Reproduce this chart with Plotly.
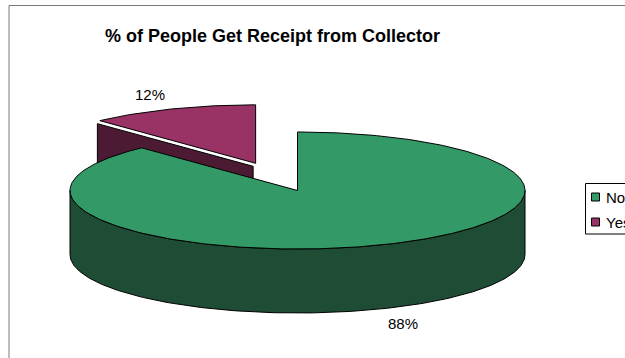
import numpy as np
import plotly.graph_objects as go

# Survey result: did the collector hand over a receipt?
categories = ["No", "Yes"]
values = [88, 12]
top_colors = ["#339966", "#993366"]
side_colors = ["#1E4C35", "#4C1B33"]
explode = [0.0, 0.5]
title_text = "% of People Get Receipt from Collector"

# Drawing geometry, in page pixels (y grows downward)
W, H = 625, 358
CX, CY = 297.5, 190.5      # centre of the top face
RX, RY = 227.5, 58.5       # ellipse radii of the tilted disc
DEPTH = 64                 # thickness of the disc
SEAM = (-2.5, 3.0)         # small gap between a lifted top face and its wall
LABEL_R = 1.26
FONT = "Arial, 'Liberation Sans', sans-serif"


def rim(cx, cy, t):
    """Point on the rim at angle t (degrees, clockwise from 12 o'clock)."""
    r = np.radians(t)
    return cx + RX * np.sin(r), cy - RY * np.cos(r)


def closed(xs, ys):
    xs = list(xs); ys = list(ys)
    return xs + [xs[0]], ys + [ys[0]]


fig = go.Figure()

total = float(sum(values))
slices = []
start = 0.0
for name, v, ex, ct, cs in zip(categories, values, explode, top_colors, side_colors):
    span = 360.0 * v / total
    mid = start + span / 2
    mr = np.radians(mid)
    cx = CX + ex * RX * np.sin(mr)
    cy = CY - ex * RY * np.cos(mr)
    slices.append(dict(name=name, v=v, s=start, e=start + span, mid=mid,
                       cx=cx, cy=cy, ct=ct, cs=cs, lifted=ex > 0))
    start += span


def poly(xs, ys, color):
    xs, ys = closed(xs, ys)
    fig.add_trace(go.Scatter(x=xs, y=ys, mode="lines", fill="toself",
                             fillcolor=color, line=dict(color="black", width=1),
                             hoverinfo="skip", showlegend=False))


# back slices first
for sl in sorted(slices, key=lambda d: d["cy"]):
    cx, cy, s, e = sl["cx"], sl["cy"], sl["s"], sl["e"]
    ox, oy = SEAM if sl["lifted"] else (0.0, 0.0)

    # radial walls that face the viewer
    for a, vis in ((s, np.sin(np.radians(s)) < -1e-9), (e, np.sin(np.radians(e)) > 1e-9)):
        if vis:
            px, py = rim(cx, cy, a)
            xs = [cx + ox, px + ox, px + ox, cx + ox]
            ys = [cy + oy, py + oy, py + DEPTH, cy + DEPTH]
            poly(xs, ys, sl["cs"])

    # curved outer wall (front half only)
    a0, a1 = max(s, 90.0), min(e, 270.0)
    if a1 > a0:
        t = np.linspace(a0, a1, 240)
        px, py = rim(cx, cy, t)
        xs = np.concatenate([px, px[::-1]])
        ys = np.concatenate([py, (py + DEPTH)[::-1]])
        poly(xs, ys, sl["cs"])

    # top face
    t = np.linspace(s, e, 360)
    px, py = rim(cx, cy, t)
    xs = np.concatenate([[cx], px])
    ys = np.concatenate([[cy], py])
    poly(xs, ys, sl["ct"])

# percentage labels outside each slice
for sl in slices:
    mr = np.radians(sl["mid"])
    lx = sl["cx"] + LABEL_R * RX * np.sin(mr)
    ly = sl["cy"] - LABEL_R * RY * np.cos(mr)
    if np.cos(mr) < 0:
        ly += DEPTH
    fig.add_annotation(x=lx, y=ly, text=f"{sl['v'] / total:.0%}", showarrow=False,
                       xanchor="center", yanchor="middle",
                       font=dict(family=FONT, size=15, color="black"))

# legend box (runs off the right edge of the page)
LEG_X, LEG_Y, LEG_ROW = 585.5, 183.5, 25
fig.add_shape(type="rect", x0=LEG_X, y0=LEG_Y, x1=W + 60, y1=LEG_Y + 2 * LEG_ROW + 0.5,
              xref="x", yref="y", line=dict(color="black", width=1),
              fillcolor="rgba(0,0,0,0)", layer="below")
for i, (name, col) in enumerate(zip(categories, top_colors)):
    yy = LEG_Y + 13.5 + i * LEG_ROW
    fig.add_trace(go.Scatter(x=[LEG_X + 10], y=[yy], mode="markers",
                             marker=dict(symbol="square", size=8, color=col,
                                         line=dict(color="black", width=1)),
                             hoverinfo="skip", showlegend=False))
    fig.add_annotation(x=LEG_X + 18, y=yy, text=name, showarrow=False,
                       xanchor="left", yanchor="middle",
                       font=dict(family=FONT, size=15, color="black"))

# chart area frame
fig.add_shape(type="rect", x0=9, y0=5.5, x1=W + 60, y1=H + 60, xref="x", yref="y",
              line=dict(color="#7a7a7a", width=1), layer="below")

fig.update_layout(
    width=W, height=H,
    margin=dict(l=0, r=0, t=0, b=0, pad=0),
    paper_bgcolor="white", plot_bgcolor="white",
    title=dict(text=title_text, x=272.5 / W, y=1 - 35.5 / H,
               xref="paper", yref="paper", xanchor="center", yanchor="middle",
               font=dict(family=FONT, size=18, color="black", weight="bold")),
    xaxis=dict(range=[0, W], visible=False, fixedrange=True),
    yaxis=dict(range=[H, 0], visible=False, fixedrange=True),
    showlegend=False,
)

fig.write_html("out.html")
